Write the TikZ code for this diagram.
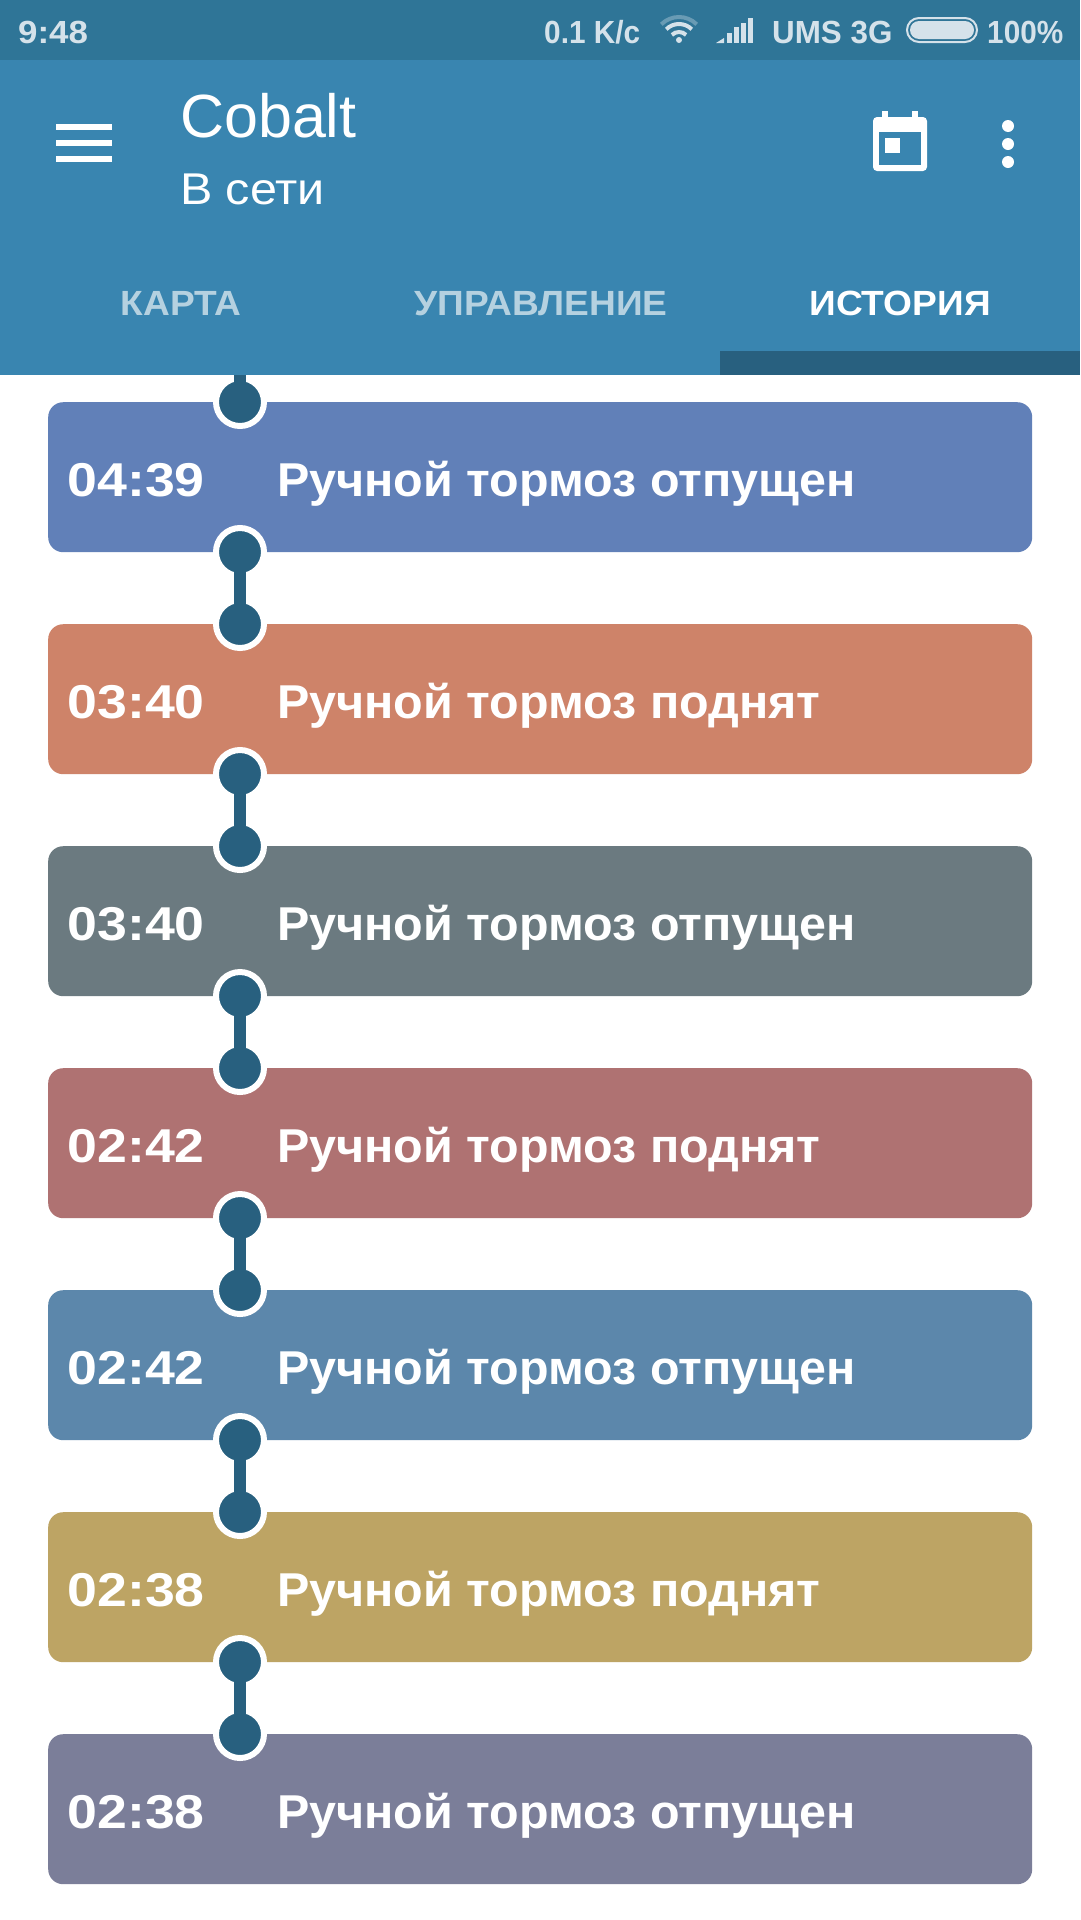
\documentclass[tikz,border=0pt]{standalone}
\usepackage{fontspec}
\setmainfont{Liberation Sans}
\newfontfamily\widefont[FakeStretch=1.09]{Liberation Sans}
\newfontfamily\tabfont[FakeStretch=1.06]{Liberation Sans}
\newfontfamily\clockfont[FakeStretch=1.13]{Liberation Sans}
\newfontfamily\eventfont[FakeStretch=1.02]{Liberation Sans}
\newfontfamily\slimfont[FakeStretch=0.93]{Liberation Sans}
\newfontfamily\carrierfont[FakeStretch=0.98]{Liberation Sans}
\usetikzlibrary{positioning,calc}

\definecolor{statusbar}{HTML}{2F7597}
\definecolor{appbar}{HTML}{3985B0}
\definecolor{deep}{HTML}{28607F}
\definecolor{statustext}{HTML}{D5E2EA}
\definecolor{tabdim}{HTML}{B5D1E0}
\definecolor{cardA}{HTML}{6180B8}
\definecolor{cardB}{HTML}{CE8369}
\definecolor{cardC}{HTML}{6B7A80}
\definecolor{cardD}{HTML}{AF7272}
\definecolor{cardE}{HTML}{5C87AB}
\definecolor{cardF}{HTML}{BDA464}
\definecolor{cardG}{HTML}{7B7E99}

\begin{document}
\begin{tikzpicture}[
    x=1pt, y=-1pt,
    card/.style={rectangle, rounded corners=15pt, minimum width=984pt, minimum height=150pt, inner sep=0pt, anchor=north west},
    dot/.style={circle, draw=white, line width=6pt, fill=deep, minimum size=48pt, inner sep=0pt, outer sep=-4pt},
    link/.style={draw=deep, line width=12pt},
    clock/.style={anchor=base east, text=white, inner sep=0pt, font=\clockfont\fontsize{47.5}{48}\selectfont\bfseries},
    event/.style={anchor=base west, text=white, inner sep=0pt, font=\eventfont\fontsize{47.5}{48}\selectfont\bfseries},
    status/.style={anchor=base west, text=statustext, inner sep=0pt, font=\carrierfont\fontsize{32}{32}\selectfont\bfseries},
    tabname/.style={anchor=base, inner sep=0pt, font=\tabfont\fontsize{35}{35}\selectfont\bfseries}
]
\useasboundingbox (0,0) rectangle (1080,1920);

% Bars at the top
\fill[white] (0,0) rectangle (1080,1920);
\fill[appbar] (0,60) rectangle (1080,375);
\fill[statusbar] (0,0) rectangle (1080,60);
\fill[deep] (720,351) rectangle (1080,375);

% Status bar
\node[status, font=\widefont\fontsize{32}{32}\selectfont\bfseries] (time) at (18,43) {9:48};
\node[status, font=\slimfont\fontsize{32}{32}\selectfont\bfseries] (speed) at (544,43) {0.1 K/с};
\node[status] (carrier) at (772,43) {UMS 3G};
\node[status, font=\slimfont\fontsize{32}{32}\selectfont\bfseries] (charge) at (987,43) {100\%};
\draw[statustext!35!statusbar, line width=4pt] (679,42) ++(225:25) arc[start angle=225, end angle=315, radius=25];
\draw[statustext, line width=4pt] (679,42) ++(225:18) arc[start angle=225, end angle=315, radius=18];
\draw[statustext, line width=4pt] (679,42) ++(225:10) arc[start angle=225, end angle=315, radius=10];
\fill[statustext] (679,40) circle[radius=3];
\fill[statustext] (716,43) -- (724,43) -- (724,38) -- cycle;
\fill[statustext] (727,43) rectangle (732,33);
\fill[statustext] (734,43) rectangle (739,27);
\fill[statustext] (741,43) rectangle (746,23);
\fill[statustext] (748,43) rectangle (753,18);
\draw[statustext, line width=2pt, rounded corners=12pt] (907,18) rectangle (977,42);
\fill[statustext, rounded corners=9pt] (910,21) rectangle (974,39);

% App bar
\fill[white] (56,124) rectangle (112,130);
\fill[white] (56,140) rectangle (112,146);
\fill[white] (56,156) rectangle (112,162);
\node[anchor=base west, text=white, inner sep=0pt, font=\fontsize{61}{61}\selectfont] (title) at (180,137) {Cobalt};
\node[anchor=base west, text=white, inner sep=0pt, font=\widefont\fontsize{44.5}{45}\selectfont] (subtitle) at (180,204) {В сети};
\fill[white, rounded corners=4pt] (873,117) rectangle (927,171);
\fill[white] (882,111) rectangle (888,122);
\fill[white] (912,111) rectangle (918,122);
\fill[appbar] (879,132) rectangle (921,165);
\fill[white] (885,138) rectangle (900,153);
\fill[white] (1008,126) circle[radius=6];
\fill[white] (1008,144) circle[radius=6];
\fill[white] (1008,162) circle[radius=6];

% Tabs
\node[tabname, text=tabdim] (map) at (181,315) {КАРТА};
\node[tabname, text=tabdim] (control) at (541,315) {УПРАВЛЕНИЕ};
\node[tabname, text=white] (history) at (900,315) {ИСТОРИЯ};

% Cards
\node[card, fill=cardA] (c1) at (48,402) {};
\node[card, fill=cardB] (c2) at (48,624) {};
\node[card, fill=cardC] (c3) at (48,846) {};
\node[card, fill=cardD] (c4) at (48,1068) {};
\node[card, fill=cardE] (c5) at (48,1290) {};
\node[card, fill=cardF] (c6) at (48,1512) {};
\node[card, fill=cardG] (c7) at (48,1734) {};

% Times and events
\node[clock] (t1) at (205,496) {04:39};
\node[clock] (t2) at (205,718) {03:40};
\node[clock] (t3) at (205,940) {03:40};
\node[clock] (t4) at (205,1162) {02:42};
\node[clock] (t5) at (205,1384) {02:42};
\node[clock] (t6) at (205,1606) {02:38};
\node[clock] (t7) at (205,1828) {02:38};
\node[event] (e1) at (277,496) {Ручной тормоз отпущен};
\node[event] (e2) at (277,718) {Ручной тормоз поднят};
\node[event] (e3) at (277,940) {Ручной тормоз отпущен};
\node[event] (e4) at (277,1162) {Ручной тормоз поднят};
\node[event] (e5) at (277,1384) {Ручной тормоз отпущен};
\node[event] (e6) at (277,1606) {Ручной тормоз поднят};
\node[event] (e7) at (277,1828) {Ручной тормоз отпущен};

% Dots on the card edges
\node[dot] (d1) at (240,402) {};
\node[dot] (u1) at (240,552) {};
\node[dot] (d2) at (240,624) {};
\node[dot] (u2) at (240,774) {};
\node[dot] (d3) at (240,846) {};
\node[dot] (u3) at (240,996) {};
\node[dot] (d4) at (240,1068) {};
\node[dot] (u4) at (240,1218) {};
\node[dot] (d5) at (240,1290) {};
\node[dot] (u5) at (240,1440) {};
\node[dot] (d6) at (240,1512) {};
\node[dot] (u6) at (240,1662) {};
\node[dot] (d7) at (240,1734) {};

% Links between the dots
\coordinate (u0) at (240,375);
\draw[link] (u0) -- (d1);
\draw[link] (u1) -- (d2);
\draw[link] (u2) -- (d3);
\draw[link] (u3) -- (d4);
\draw[link] (u4) -- (d5);
\draw[link] (u5) -- (d6);
\draw[link] (u6) -- (d7);

\end{tikzpicture}
\end{document}
